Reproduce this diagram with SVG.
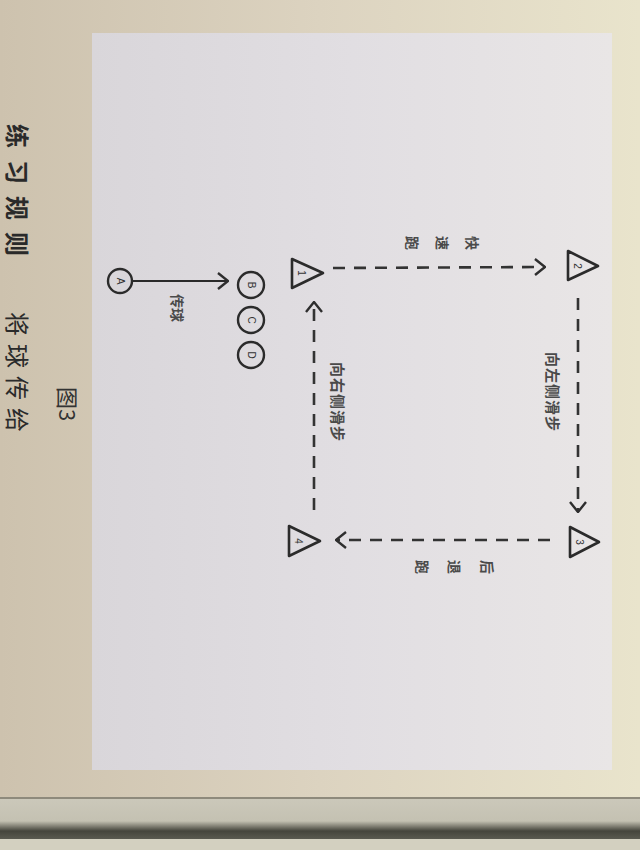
<svg xmlns="http://www.w3.org/2000/svg" width="640" height="850" viewBox="0 0 640 850">
<defs>
<linearGradient id="page" x1="0" y1="0" x2="1" y2="0">
<stop offset="0" stop-color="#cdc2ae"/>
<stop offset="0.5" stop-color="#dcd3c0"/>
<stop offset="1" stop-color="#e9e4cc"/>
</linearGradient>
<linearGradient id="panel" x1="0" y1="0" x2="1" y2="0">
<stop offset="0" stop-color="#d9d6da"/>
<stop offset="0.5" stop-color="#e1dee2"/>
<stop offset="1" stop-color="#e9e6e6"/>
</linearGradient>
<linearGradient id="edge" x1="0" y1="0" x2="0" y2="1">
<stop offset="0" stop-color="#cbc8ba"/>
<stop offset="0.55" stop-color="#c4c1b2"/>
<stop offset="0.8" stop-color="#45453c"/>
<stop offset="1" stop-color="#5a5a50"/>
</linearGradient>
<marker id="chev" viewBox="0 0 12 18" refX="11" refY="9" markerWidth="12" markerHeight="18" markerUnits="userSpaceOnUse" orient="auto">
<path d="M1,1 L11,9 L1,17" fill="none" stroke="#2e2e2e" stroke-width="2.4" stroke-dasharray="none"/>
</marker>
<style>
.dash{fill:none;stroke:#333;stroke-width:2.6;stroke-dasharray:12 9;marker-end:url(#chev)}
.solid{fill:none;stroke:#2a2a2a;stroke-width:2.2;marker-end:url(#chev)}
.tri{fill:none;stroke:#2b2b2b;stroke-width:2.6;stroke-linejoin:round}
.circ{fill:none;stroke:#2b2b2b;stroke-width:2.4}
.lbl{font-family:"Noto Sans CJK SC","Noto Sans",sans-serif;fill:#4a4a4a;font-weight:bold;text-anchor:middle;dominant-baseline:central}
.num{font-family:"Liberation Sans",sans-serif;fill:#333;font-size:10px;text-anchor:middle;dominant-baseline:central}
.body{font-family:"Noto Sans CJK SC",serif;fill:#2a2a2a;font-size:24px;dominant-baseline:central}
</style>
</defs>
<rect x="0" y="0" width="640" height="850" fill="url(#page)"/>
<rect x="92" y="33" width="520" height="737" fill="url(#panel)"/>
<rect x="0" y="797" width="640" height="2" fill="#8e8a7c"/>
<rect x="0" y="799" width="640" height="40" fill="url(#edge)"/>
<rect x="0" y="839" width="640" height="11" fill="#d3d0c0"/>

<g id="page-text">
<text class="body" font-weight="bold" letter-spacing="12" transform="translate(18,124) rotate(90)">练习规则</text>
<text class="body" letter-spacing="8" transform="translate(18,312) rotate(90)">将球传给</text>
</g>

<g id="connectors">
<line class="dash" x1="333" y1="268" x2="545" y2="267"/>
<line class="dash" x1="578" y1="298" x2="578" y2="512"/>
<line class="dash" x1="550" y1="540" x2="336" y2="540"/>
<line class="dash" x1="314" y1="510" x2="314" y2="302"/>
<line class="solid" x1="133" y1="281" x2="228" y2="281"/>
</g>

<g id="cone1">
<path class="tri" d="M292,259 L292,288 L323,273 Z"/>
<text class="num" transform="translate(301,273) rotate(90)">1</text>
</g>
<g id="cone2">
<path class="tri" d="M568,251 L568,280 L598,266 Z"/>
<text class="num" transform="translate(577,266) rotate(90)">2</text>
</g>
<g id="cone3">
<path class="tri" d="M570,527 L570,557 L599,542 Z"/>
<text class="num" transform="translate(579,542) rotate(90)">3</text>
</g>
<g id="cone4">
<path class="tri" d="M289,526 L289,556 L320,541 Z"/>
<text class="num" transform="translate(298,541) rotate(90)">4</text>
</g>

<g id="playerA">
<circle class="circ" cx="120" cy="281" r="12"/>
<text class="num" transform="translate(120,281) rotate(90)">A</text>
</g>
<g id="playerB">
<circle class="circ" cx="251" cy="285" r="13"/>
<text class="num" transform="translate(251,285) rotate(90)">B</text>
</g>
<g id="playerC">
<circle class="circ" cx="251" cy="320" r="13"/>
<text class="num" transform="translate(251,320) rotate(90)">C</text>
</g>
<g id="playerD">
<circle class="circ" cx="251" cy="355" r="13"/>
<text class="num" transform="translate(251,355) rotate(90)">D</text>
</g>

<g id="labels">
<text class="lbl" font-size="14" transform="translate(473,243) rotate(90)">快</text>
<text class="lbl" font-size="14" transform="translate(443,243) rotate(90)">速</text>
<text class="lbl" font-size="14" transform="translate(413,243) rotate(90)">跑</text>
<text class="lbl" font-size="14" transform="translate(488,567) rotate(90)">后</text>
<text class="lbl" font-size="14" transform="translate(455,567) rotate(90)">退</text>
<text class="lbl" font-size="14" transform="translate(423,567) rotate(90)">跑</text>
<text class="lbl" font-size="15" letter-spacing="1" transform="translate(553,392) rotate(90)">向左侧滑步</text>
<text class="lbl" font-size="15" letter-spacing="1" transform="translate(338,402) rotate(90)">向右侧滑步</text>
<text class="lbl" font-size="14" transform="translate(178,308) rotate(90)">传球</text>
</g>

<g id="caption">
<text font-family="Noto Sans CJK SC,sans-serif" font-size="22" fill="#333" text-anchor="middle" dominant-baseline="central" transform="translate(69,404) rotate(90)">图3</text>
</g>
</svg>
